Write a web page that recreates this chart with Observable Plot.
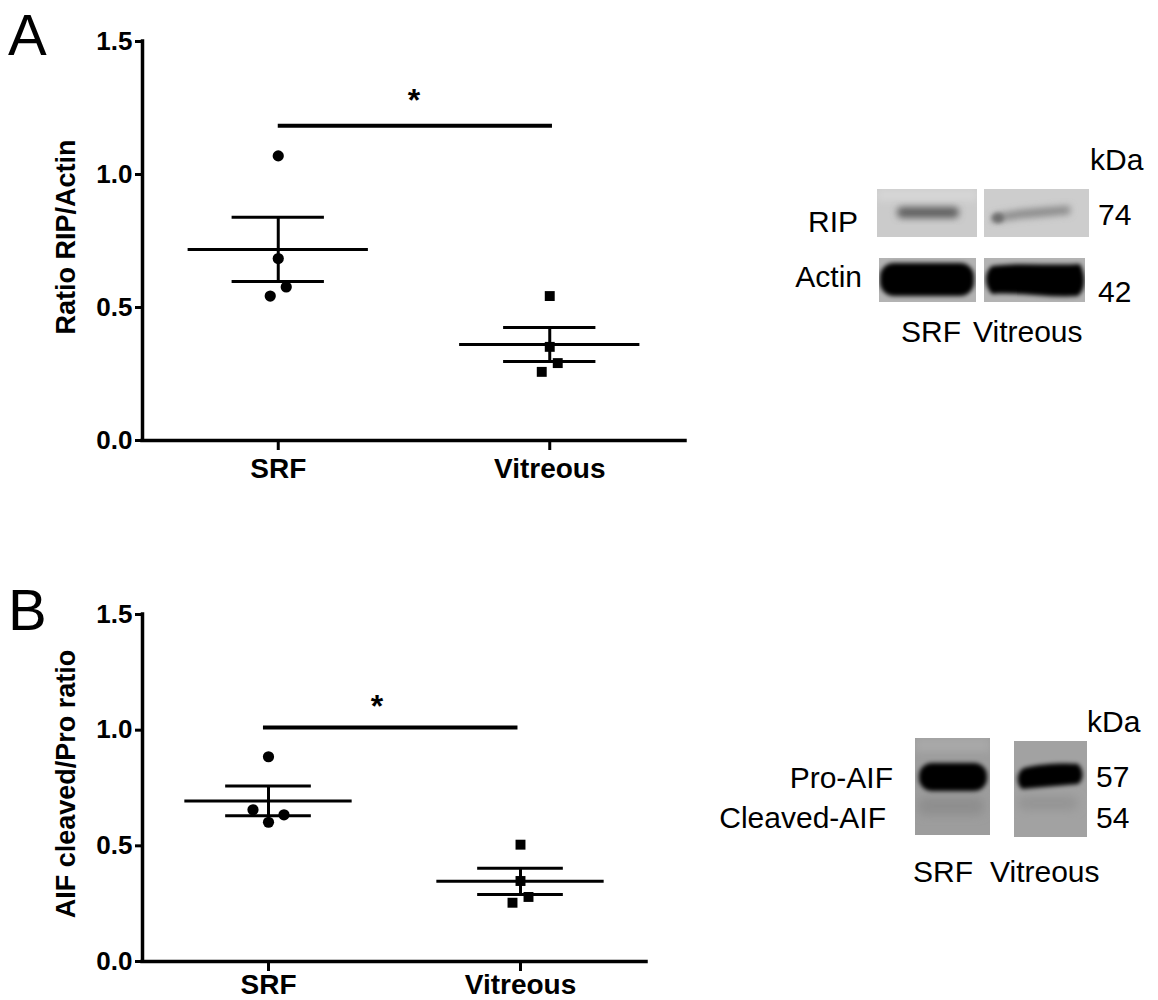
<!DOCTYPE html>
<html><head><meta charset="utf-8">
<script src="https://cdn.jsdelivr.net/npm/d3@7"></script>
<script src="https://cdn.jsdelivr.net/npm/@observablehq/plot@0.6"></script>
<style>
body{margin:0;background:#fff;}
#root{position:relative;width:1158px;height:1000px;overflow:hidden;font-family:"Liberation Sans",Arial,sans-serif;}
.abs{position:absolute;left:0;top:0;}
</style></head><body><div id="root"></div>
<script>
// ---------------- data ----------------
const categories = ["SRF", "Vitreous"];
const ripSRF = [1.07, 0.684, 0.577, 0.543];
const ripVitreous = [0.543, 0.352, 0.291, 0.258];
const aifSRF = [0.885, 0.656, 0.634, 0.602];
const aifVitreous = [0.505, 0.348, 0.279, 0.254];
const yTicks = [0, 0.5, 1.0, 1.5];
const yLabels = ["Ratio RIP/Actin", "AIF cleaved/Pro ratio"];
const sigLevels = [1.183, 1.011];
const sigMark = "*";
const panelLetters = ["A", "B"];
const blotA = {rows: ["RIP", "Actin"], kda: ["74", "42"], lanes: ["SRF", "Vitreous"]};
const blotB = {rows: ["Pro-AIF", "Cleaved-AIF"], kda: ["57", "54"], lanes: ["SRF", "Vitreous"]};

// ---------------- layout ----------------
const root = document.getElementById("root");
const FONT = "'Liberation Sans', Arial, Helvetica, sans-serif";

function jitterOffsets(vals, pxPerUnit, diam, s2, s3) {
  const order = vals.map((v, i) => i).sort((a, b) => vals[b] - vals[a]);
  const offs = new Array(vals.length).fill(0);
  let clusters = [], cur = [order[0]];
  for (let k = 1; k < order.length; k++) {
    const gap = (vals[order[k - 1]] - vals[order[k]]) * pxPerUnit;
    if (gap < diam) cur.push(order[k]); else { clusters.push(cur); cur = [order[k]]; }
  }
  clusters.push(cur);
  for (const c of clusters) {
    if (c.length === 2) { offs[c[0]] = s2; offs[c[1]] = -s2; }
    else if (c.length === 3) { offs[c[0]] = -s3; offs[c[1]] = s3; offs[c[2]] = 0; }
  }
  return offs;
}

function panel(cfg) {
  const series = cfg.series;
  const kx = (cfg.xEnd - cfg.marginLeft) / 2; // px per x-unit
  const ky = (cfg.height - cfg.marginTop - cfg.marginBottom) / 1.5;
  const stats = series.map((vals, i) => {
    const m = d3.mean(vals), se = d3.deviation(vals) / Math.sqrt(vals.length);
    return {idx: i + 1, mean: m, lo: m - se, hi: m + se};
  });
  const pts = series.map((vals, i) => {
    const offs = jitterOffsets(vals, ky, 11, 8, 15.5);
    return vals.map((v, j) => ({x: i + 1 + offs[j] / kx, y: v}));
  });
  const sig = cfg.sig;
  const chart = Plot.plot({
    width: cfg.width, height: cfg.height,
    marginLeft: cfg.marginLeft, marginRight: cfg.width - cfg.xEnd,
    marginTop: cfg.marginTop, marginBottom: cfg.marginBottom,
    x: {domain: [0.5, 2.5], axis: null},
    y: {domain: [0, 1.5], axis: null},
    style: {fontFamily: FONT, color: "black", background: "transparent", overflow: "visible"},
    marks: [
      Plot.axisY(yTicks, {tickSize: 7, tickPadding: 3, fontSize: 26, fontWeight: "bold", strokeWidth: 3,
        tickFormat: d3.format(".1f"), label: null}),
      Plot.axisX([1, 2], {tickSize: 10, tickPadding: cfg.xPad, fontSize: 28, fontWeight: "bold", strokeWidth: 3,
        tickFormat: d => categories[d - 1], label: null}),
      Plot.ruleY([0], {x1: 0.5, x2: 2.5, strokeWidth: 3.5, strokeLinecap: "square"}),
      Plot.ruleX([0.5], {y1: 0, y2: 1.5, strokeWidth: 3.5, strokeLinecap: "square"}),
      Plot.text([cfg.ylabel], {frameAnchor: "left", text: d => d, rotate: -90, dx: -76, fontSize: 27,
        fontWeight: "bold", lineAnchor: "middle", textAnchor: "middle", dy: -4}),
      Plot.ruleY(stats, {y: "mean", x1: d => d.idx - 0.332, x2: d => d.idx + 0.332, strokeWidth: 3}),
      Plot.ruleY(stats, {y: "hi", x1: d => d.idx - 0.17, x2: d => d.idx + 0.17, strokeWidth: 3}),
      Plot.ruleY(stats, {y: "lo", x1: d => d.idx - 0.17, x2: d => d.idx + 0.17, strokeWidth: 3}),
      Plot.ruleX(stats, {x: "idx", y1: "lo", y2: "hi", strokeWidth: 3}),
      Plot.dot(pts[0], {x: "x", y: "y", symbol: "circle", r: 5.6, fill: "black", stroke: null}),
      Plot.dot(pts[1], {x: "x", y: "y", symbol: "square", r: 5.6, fill: "black", stroke: null}),
      Plot.ruleY([sig], {x1: cfg.sigX[0], x2: cfg.sigX[1], strokeWidth: 4}),
      Plot.text([sigMark], {x: cfg.starX, y: sig + 0.1, text: d => d, fontSize: 32, fontWeight: "bold", dy: 2, lineAnchor: "middle"})
    ]
  });
  chart.classList.add("abs");
  chart.style.top = cfg.top + "px";
  root.appendChild(chart);
}

panel({series: [ripSRF, ripVitreous], ylabel: yLabels[0], sig: sigLevels[0], sigX: [1.0, 2.01], starX: 1.5,
  top: 0, width: 720, height: 500, marginLeft: 142, xEnd: 685, marginTop: 41, marginBottom: 60, xPad: 8});
panel({series: [aifSRF, aifVitreous], ylabel: yLabels[1], sig: sigLevels[1], sigX: [0.98, 1.99], starX: 1.43,
  top: 560, width: 720, height: 440, marginLeft: 142, xEnd: 646, marginTop: 54, marginBottom: 39, xPad: 3});

// ---------------- panel letters and blot illustrations ----------------
const svg = d3.select(root).append("svg").attr("class", "abs")
  .attr("width", 1158).attr("height", 1000).style("pointer-events", "none")
  .style("font-family", FONT);
const defs = svg.append("defs");
[["b1", 1.2], ["b2", 2.2], ["b3", 3.5], ["b5", 5]].forEach(([id, s]) => {
  defs.append("filter").attr("id", id).attr("x", "-30%").attr("y", "-60%").attr("width", "160%").attr("height", "220%")
    .append("feGaussianBlur").attr("stdDeviation", s);
});
function clip(id, x, y, w, h) {
  defs.append("clipPath").attr("id", id).append("rect").attr("x", x).attr("y", y).attr("width", w).attr("height", h);
}
svg.append("text").attr("x", 8).attr("y", 55).attr("font-size", 58).text(panelLetters[0]);
svg.append("text").attr("x", 8).attr("y", 630).attr("font-size", 58).text(panelLetters[1]);

function box(id, x, y, w, h, fill, draw) {
  clip(id, x, y, w, h);
  const g = svg.append("g").attr("clip-path", `url(#${id})`);
  g.append("rect").attr("x", x).attr("y", y).attr("width", w).attr("height", h).attr("fill", fill);
  draw(g);
}
// Blot A
box("cA1", 877, 189, 100, 48, "#cbcbcb", g => {
  g.append("rect").attr("x", 877).attr("y", 189).attr("width", 100).attr("height", 12).attr("fill", "#d6d6d6").attr("filter", "url(#b3)");
  g.append("rect").attr("x", 897).attr("y", 207).attr("width", 62).attr("height", 11).attr("rx", 5).attr("fill", "#5e5e5e").attr("filter", "url(#b3)");
});
box("cA2", 984, 189, 105, 48, "#cdcdcd", g => {
  g.append("path").attr("d", "M992,216 C1010,210 1030,209 1070,206 L1070,214 C1030,217 1010,219 992,222 Z").attr("fill", "#858585").attr("filter", "url(#b3)");
  g.append("ellipse").attr("cx", 998).attr("cy", 218).attr("rx", 6).attr("ry", 5).attr("fill", "#6e6e6e").attr("filter", "url(#b2)");
});
box("cA3", 879, 258, 97, 44, "#b3b3b3", g => {
  g.append("rect").attr("x", 880).attr("y", 263).attr("width", 94).attr("height", 33).attr("rx", 14).attr("fill", "#000").attr("filter", "url(#b2)");
});
box("cA4", 984, 258, 101, 44, "#b3b3b3", g => {
  g.append("path").attr("d", "M992,266 C1020,262 1050,266 1080,264 C1086,275 1086,290 1078,296 C1050,298 1020,292 992,294 C984,286 984,272 992,266 Z").attr("fill", "#000").attr("filter", "url(#b2)");
});
const tA = svg.append("g").attr("font-size", 30).attr("fill", "#000");
tA.append("text").attr("x", 1090).attr("y", 170).text("kDa");
tA.append("text").attr("x", 858).attr("y", 232).attr("text-anchor", "end").text(blotA.rows[0]);
tA.append("text").attr("x", 862).attr("y", 287).attr("text-anchor", "end").text(blotA.rows[1]);
tA.append("text").attr("x", 1098).attr("y", 225).text(blotA.kda[0]);
tA.append("text").attr("x", 1098).attr("y", 302).text(blotA.kda[1]);
tA.append("text").attr("x", 901).attr("y", 342).text(blotA.lanes[0]);
tA.append("text").attr("x", 973).attr("y", 342).text(blotA.lanes[1]);

// Blot B
box("cB1", 915, 738, 75, 97, "#9d9d9d", g => {
  g.append("rect").attr("x", 915).attr("y", 738).attr("width", 75).attr("height", 14).attr("fill", "#a8a8a8").attr("filter", "url(#b3)");
  g.append("rect").attr("x", 918).attr("y", 797).attr("width", 66).attr("height", 18).attr("rx", 6).attr("fill", "#8e8e8e").attr("filter", "url(#b5)");
  g.append("rect").attr("x", 919).attr("y", 763).attr("width", 68).attr("height", 28).attr("rx", 13).attr("fill", "#000").attr("filter", "url(#b2)");
});
box("cB2", 1014, 741, 73, 96, "#a2a2a2", g => {
  g.append("rect").attr("x", 1018).attr("y", 796).attr("width", 60).attr("height", 14).attr("rx", 6).attr("fill", "#949494").attr("filter", "url(#b5)");
  g.append("path").attr("d", "M1024,768 C1045,763 1065,763 1078,764 C1084,770 1084,780 1078,784 C1060,786 1040,787 1022,789 C1016,784 1016,772 1024,768 Z").attr("fill", "#000").attr("filter", "url(#b2)");
});
const tB = svg.append("g").attr("font-size", 30).attr("fill", "#000");
tB.append("text").attr("x", 1087).attr("y", 732).text("kDa");
tB.append("text").attr("x", 893).attr("y", 788).attr("text-anchor", "end").text(blotB.rows[0]);
tB.append("text").attr("x", 886).attr("y", 828).attr("text-anchor", "end").text(blotB.rows[1]);
tB.append("text").attr("x", 1096).attr("y", 787).text(blotB.kda[0]);
tB.append("text").attr("x", 1096).attr("y", 828).text(blotB.kda[1]);
tB.append("text").attr("x", 913).attr("y", 882).text(blotB.lanes[0]);
tB.append("text").attr("x", 990).attr("y", 882).text(blotB.lanes[1]);
</script></body></html>
